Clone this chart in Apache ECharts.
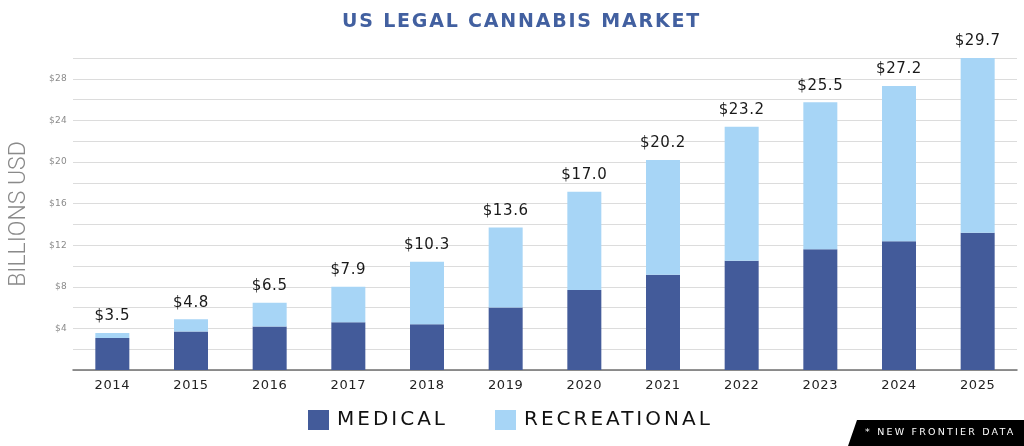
<!DOCTYPE html>
<html>
<head>
<meta charset="utf-8">
<script src="https://cdn.jsdelivr.net/npm/echarts@6/dist/echarts.min.js"></script>
<style>
html,body{margin:0;padding:0;background:#fff;}
#chart{width:1024px;height:446px;}
</style>
</head>
<body>
<div id="chart"></div>
<script>
const years = ['2014','2015','2016','2017','2018','2019','2020','2021','2022','2023','2024','2025'];
const totalLabels = ['$3.5','$4.8','$6.5','$7.9','$10.3','$13.6','$17.0','$20.2','$23.2','$25.5','$27.2','$29.7'];
const medical = [3.07, 3.71, 4.19, 4.59, 4.4, 6.0, 7.7, 9.17, 10.5, 11.6, 12.37, 13.2];
const recreational = [0.48, 1.16, 2.27, 3.41, 6.0, 7.7, 9.45, 11.03, 12.9, 14.15, 14.93, 16.8];
const yTickLabels = [4, 8, 12, 16, 20, 24, 28];

// letter spacing to match the spaced-out caps of the reference typography
(function () {
  const spacingBySize = { '19': '1.8px', '20': '3px', '9.5': '2.2px', '15': '0.6px', '13': '0.6px', '9': '0.3px' };
  const proto = CanvasRenderingContext2D.prototype;
  const orig = proto.fillText;
  proto.fillText = function (t, x, y, m) {
    const mt = /(\d+(?:\.\d+)?)px/.exec(this.font || '');
    const sp = (mt && spacingBySize[mt[1]]) || '0px';
    if ('letterSpacing' in this) this.letterSpacing = sp;
    if (m === undefined) orig.call(this, t, x, y); else orig.call(this, t, x, y, m);
    if ('letterSpacing' in this) this.letterSpacing = '0px';
  };
})();

const chart = echarts.init(document.getElementById('chart'));
chart.setOption({
  backgroundColor: '#ffffff',
  animation: false,
  title: {
    text: 'US LEGAL CANNABIS MARKET',
    left: 342,
    top: 13,
    padding: 0,
    textStyle: { fontFamily: 'DejaVu Sans', fontSize: 19, fontWeight: 'bold', color: '#4260a0' }
  },
  legend: {
    top: 410,
    left: 308,
    padding: 0,
    itemWidth: 21,
    itemHeight: 20,
    itemGap: 68,
    icon: 'rect',
    textStyle: { fontFamily: 'DejaVu Sans', fontSize: 20, color: '#111', padding: [0, 0, 0, 3] },
    data: ['MEDICAL', 'RECREATIONAL']
  },
  grid: { left: 70, right: 7, top: 58, bottom: 76 },
  xAxis: {
    type: 'category',
    data: years,
    axisTick: { show: false },
    axisLine: { lineStyle: { color: '#6f6f6f', width: 1.5 } },
    axisLabel: { fontFamily: 'DejaVu Sans', fontSize: 13, color: '#222', margin: 9 }
  },
  yAxis: {
    type: 'value',
    min: 0,
    max: 30,
    interval: 2,
    name: 'BILLIONS USD',
    nameLocation: 'middle',
    nameGap: 42,
    nameTextStyle: { fontFamily: 'Roboto', fontWeight: 300, fontSize: 23, color: '#8a8a8a' },
    axisLine: { show: false },
    axisTick: { show: false },
    splitLine: { lineStyle: { color: '#dcdcdc', width: 1 } },
    axisLabel: {
      fontFamily: 'DejaVu Sans', fontSize: 9, color: '#8a8a8a', margin: 6,
      formatter: v => yTickLabels.includes(v) ? '$' + v : ''
    }
  },
  series: [
    {
      name: 'MEDICAL', type: 'bar', stack: 'total', barWidth: 34,
      itemStyle: { color: '#435b9a' },
      data: medical
    },
    {
      name: 'RECREATIONAL', type: 'bar', stack: 'total', barWidth: 34,
      itemStyle: { color: '#a7d5f6' },
      label: {
        show: true, position: 'top', distance: 9,
        fontFamily: 'DejaVu Sans', fontSize: 15, color: '#1a1a1a',
        formatter: p => totalLabels[p.dataIndex]
      },
      data: recreational
    }
  ],
  graphic: [
    {
      type: 'polygon', silent: true,
      shape: { points: [[857, 420], [1024, 420], [1024, 446], [848, 446]] },
      style: { fill: '#000' }
    },
    {
      type: 'text', silent: true, left: 865, top: 428,
      style: { text: '* NEW FRONTIER DATA', fill: '#fff', font: '9.5px "DejaVu Sans"' }
    }
  ]
});
</script>
</body>
</html>
